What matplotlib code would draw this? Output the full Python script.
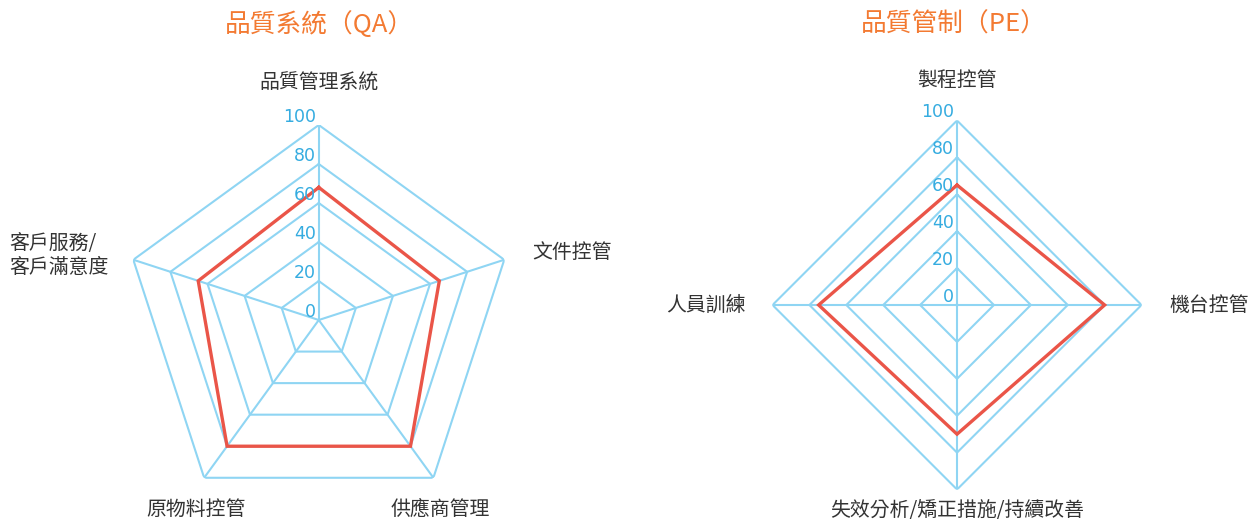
import numpy as np
import matplotlib
matplotlib.use("Agg")
import matplotlib.pyplot as plt

plt.rcParams['font.family'] = ['Noto Sans CJK TC', 'DejaVu Sans']

# data
qa_title = "品質系統（QA）"
qa_labels = ["品質管理系統", "文件控管", "供應商管理", "原物料控管", "客戶服務/\n客戶滿意度"]
qa_values = [68, 65, 80, 80, 65]

pe_title = "品質管制（PE）"
pe_labels = ["製程控管", "機台控管", "失效分析/矯正措施/持續改善", "人員訓練"]
pe_values = [65, 80, 70, 75]

levels = [0, 20, 40, 60, 80, 100]

grid_c = "#8fd5f3"
tick_c = "#35ace0"
red = "#ea5548"
title_c = "#f37a32"
text_c = "#333333"

fig = plt.figure(figsize=(12.59, 5.25), dpi=100)


def radar(rect, labels, values, offsets, aligns):
    ax = fig.add_axes(rect, projection='polar')
    n = len(labels)
    th = np.arange(n) * 2 * np.pi / n
    ax.set_theta_offset(np.pi / 2)
    ax.set_theta_direction(-1)
    ax.set_ylim(0, 100)
    ax.grid(False)
    ax.spines['polar'].set_visible(False)
    ax.set_xticks([])
    ax.set_yticks([])
    ax.patch.set_visible(False)
    thc = np.append(th, th[0])
    for lv in levels[1:]:
        ax.plot(thc, [lv] * (n + 1), color=grid_c, lw=1.5, solid_joinstyle='miter')
    for t in th:
        ax.plot([t, t], [0, 100], color=grid_c, lw=1.5)
    vals = list(values) + [values[0]]
    ax.plot(thc, vals, color=red, lw=2.4, solid_joinstyle='miter', zorder=5)
    for lv in levels:
        ax.annotate(str(lv), xy=(0, lv), xytext=(-3, 3), textcoords='offset pixels',
                    ha='right', va='baseline', color=tick_c, fontsize=12.5,
                    family=['DejaVu Sans'], zorder=6)
    for t, lab, off, al in zip(th, labels, offsets, aligns):
        ax.annotate(lab, xy=(t, 100), xytext=off, textcoords='offset pixels',
                    ha=al, va='center', color=text_c, fontsize=14.3,
                    multialignment='left', linespacing=1.2)
    return ax


radar([0.0983, 0.019, 0.3098, 0.7429], qa_labels, qa_values,
      [(0, 42), (28, 7), (7, -32), (-8, -32), (-124, 4)],
      ['center', 'left', 'center', 'center', 'left'])
radar([0.6136, 0.0676, 0.2931, 0.7029], pe_labels, pe_values,
      [(0, 40), (28, 0), (0, -21), (-27, 0)],
      ['center', 'left', 'center', 'right'])

fig.text(319 / 1259, 1 - 25 / 525, qa_title, ha='center', va='center',
         color=title_c, fontsize=18.5)
fig.text(954 / 1259, 1 - 25 / 525, pe_title, ha='center', va='center',
         color=title_c, fontsize=18.5)

fig.savefig("out.png", dpi=100)
